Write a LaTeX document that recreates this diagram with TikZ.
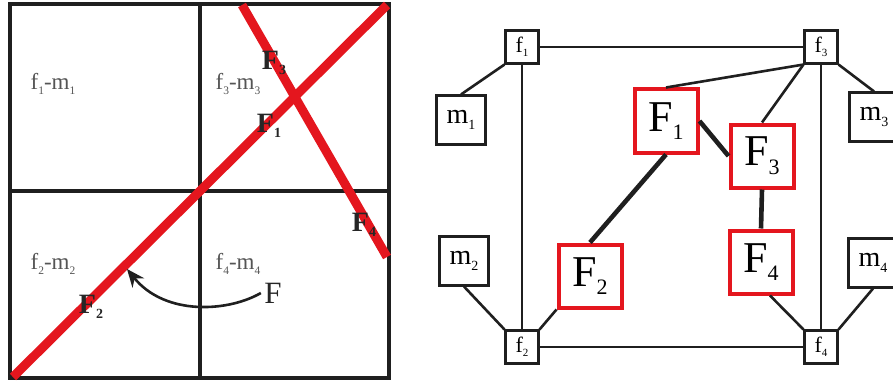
\documentclass[tikz,border=0pt]{standalone}
\usepackage{fontspec}
\setmainfont{Liberation Serif}
\usepackage{graphicx}
\usetikzlibrary{arrows.meta}

\definecolor{redline}{RGB}{228,22,30}
\definecolor{gridtext}{RGB}{85,85,85}
\newcommand{\subidx}[1]{\raisebox{-0.2em}{\scalebox{0.5}{#1}}}

\begin{document}
\begin{tikzpicture}[
  x=1pt, y=-1pt,
  >=Stealth,
  %% Left half: cut grid
  gridline/.style={line width=4.2pt, black!88},
  cutline/.style={line width=9pt, redline},
  cellname/.style={font=\fontsize{23}{23}\selectfont, text=gridtext},
  cutname/.style={font=\fontsize{28}{28}\selectfont\bfseries, text=black!85},
  %% Right half: graph node styles
  fbox/.style={draw=black!88, line width=2.6pt, minimum size=32.5pt,
    inner sep=0pt, font=\fontsize{22}{22}\selectfont, fill=white},
  mbox/.style={draw=black!88, line width=2.6pt, minimum size=48.5pt,
    inner sep=0pt, font=\fontsize{28}{28}\selectfont, fill=white},
  Fbox/.style={draw=redline, line width=4pt, minimum size=63pt,
    inner sep=0pt, font=\fontsize{44}{44}\selectfont, fill=white},
  thin/.style={line width=2.6pt, black!88},
  thick/.style={line width=4.6pt, black!88},
]
\useasboundingbox (0,0) rectangle (893,385);

%% =========================================================
%% LEFT HALF -- four cells and two cuts
%% =========================================================
\draw[gridline] (10,4) rectangle (389,378);
\draw[gridline] (200,4) -- (200,378);
\draw[gridline] (10,191) -- (389,191);

\node[cellname] (c1) at (53,84)  {f\subidx{1}-m\subidx{1}};
\node[cellname] (c3) at (238,84) {f\subidx{3}-m\subidx{3}};
\node[cellname] (c2) at (53,264) {f\subidx{2}-m\subidx{2}};
\node[cellname] (c4) at (238,264){f\subidx{4}-m\subidx{4}};

\draw[cutline] (13,377) -- (387,5);
\draw[cutline] (242,5) -- (387,257);

\node[cutname] (l3) at (274,63)  {F\subidx{3}};
\node[cutname] (l1) at (269,126) {F\subidx{1}};
\node[cutname] (l4) at (364,225) {F\subidx{4}};
\node[cutname] (l2) at (91,307)  {F\subidx{2}};

%% F turned onto the cut
\node[font=\fontsize{31}{31}\selectfont, text=black!85] (F) at (273,293) {F};
\coordinate (Ftip) at (127,269);
\draw[line width=2.6pt, black!88, -{Stealth[length=18pt, width=15pt]}]
  (F.west) .. controls (228,312) and (165,316) .. (Ftip);

%% =========================================================
%% RIGHT HALF -- graph
%% =========================================================
%% corner nodes
\node[fbox] (f1) at (522,47)  {f\subidx{1}};
\node[fbox] (f3) at (821,47)  {f\subidx{3}};
\node[fbox] (f2) at (522,347) {f\subidx{2}};
\node[fbox] (f4) at (821,347) {f\subidx{4}};

%% outer nodes
\node[mbox] (m1) at (461,120) {m\subidx{1}};
\node[mbox] (m2) at (464,261) {m\subidx{2}};
\node[mbox] (m3) at (874,117) {m\subidx{3}};
\node[mbox] (m4) at (873,263) {m\subidx{4}};

%% cut nodes
\node[Fbox] (F1) at (666,121) {F\subidx{1}};
\node[Fbox] (F3) at (762,156) {F\subidx{3}};
\node[Fbox] (F2) at (590,276) {F\subidx{2}};
\node[Fbox] (F4) at (761,262) {F\subidx{4}};

%% frame
\draw[thin] (f1.east) -- (f3.west);
\draw[thin] (f2.east) -- (f4.west);
\draw[thin] (f1.south) -- (f2.north);
\draw[thin] (f3.south) -- (f4.north);

%% spokes
\draw[thin] (f1.south west) -- (m1.north);
\draw[thin] (m2.south) -- (f2.north west);
\draw[thin] (f3.south east) -- (m3.north);
\draw[thin] (m4.south) -- (f4.north east);

\draw[thin] (f3.south west) -- (F1.north);
\draw[thin] (f3.south west) -- (F3.north);
\draw[thin] (F2.south west) -- (f2.north east);
\draw[thin] (F4.285) -- (f4.north west);

%% cut links
\draw[thick] (F1.east) -- (F3.west);
\draw[thick] (F1.south) -- (F2.north);
\draw[thick] (F3.south) -- (F4.north);

\end{tikzpicture}
\end{document}
